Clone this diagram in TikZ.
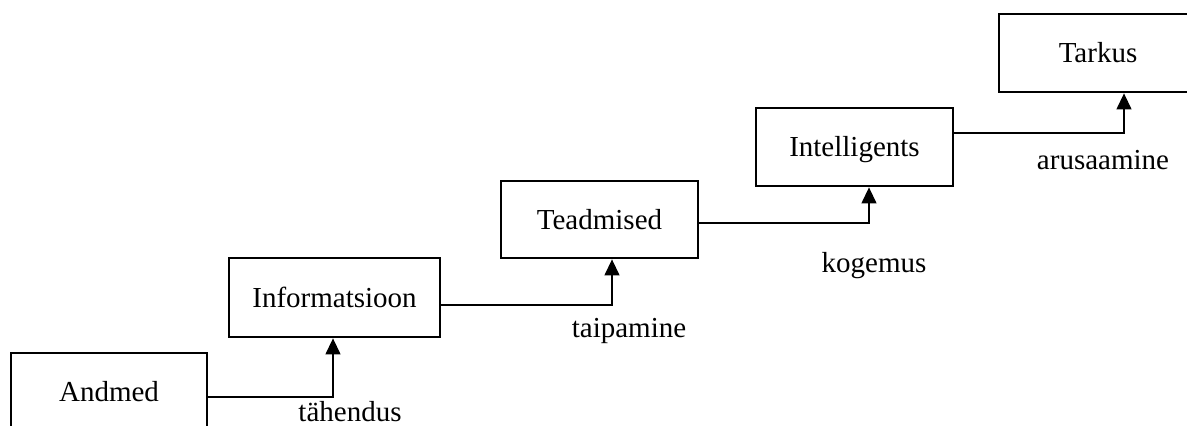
\documentclass[tikz,border=0pt]{standalone}
\usepackage{fontspec}
\setmainfont{Liberation Serif}
\usetikzlibrary{arrows.meta}
\tikzset{
  stepbox/.style={draw, line width=2.8pt, inner sep=0pt, text height=19pt, text depth=0pt,
    font=\fontsize{29}{34}\selectfont},
  lbl/.style={anchor=base, inner sep=0pt, font=\fontsize{29}{34}\selectfont},
  conn/.style={line width=1.3pt, -{Triangle[width=15pt,length=16pt]}}
}
\begin{document}
\begin{tikzpicture}[x=1pt,y=-1pt]
\useasboundingbox (0,0) rectangle (1187,426);
\clip (0,0) rectangle (1187,426);
\node[stepbox, minimum width=196pt, minimum height=78pt] (andmed) at (109,392) {Andmed};
\node[stepbox, minimum width=211pt, minimum height=79pt] (info) at (334.5,297.5) {Informatsioon};
\node[stepbox, minimum width=197pt, minimum height=77pt] (teadm) at (599.5,219.5) {Teadmised};
\node[stepbox, minimum width=197pt, minimum height=78pt] (intel) at (854.5,147) {Intelligents};
\node[stepbox, minimum width=198pt, minimum height=78pt] (tarkus) at (1098,53) {Tarkus};
\coordinate (c1) at (333,397);
\coordinate (c2) at (612,305);
\coordinate (c3) at (869,223);
\coordinate (c4) at (1124,133);
\draw[conn] (andmed.east |- c1) -- (c1) -- (c1 |- info.south);
\draw[conn] (info.east |- c2) -- (c2) -- (c2 |- teadm.south);
\draw[conn] (teadm.east |- c3) -- (c3) -- (c3 |- intel.south);
\draw[conn] (intel.east |- c4) -- (c4) -- (c4 |- tarkus.south);
\node[lbl, text depth=0pt] (l1) at (350,421) {tähendus};
\node[lbl] (l2) at (629,337) {taipamine};
\node[lbl] (l3) at (874,272) {kogemus};
\node[lbl] (l4) at (1103,169) {arusaamine};
\end{tikzpicture}
\end{document}
